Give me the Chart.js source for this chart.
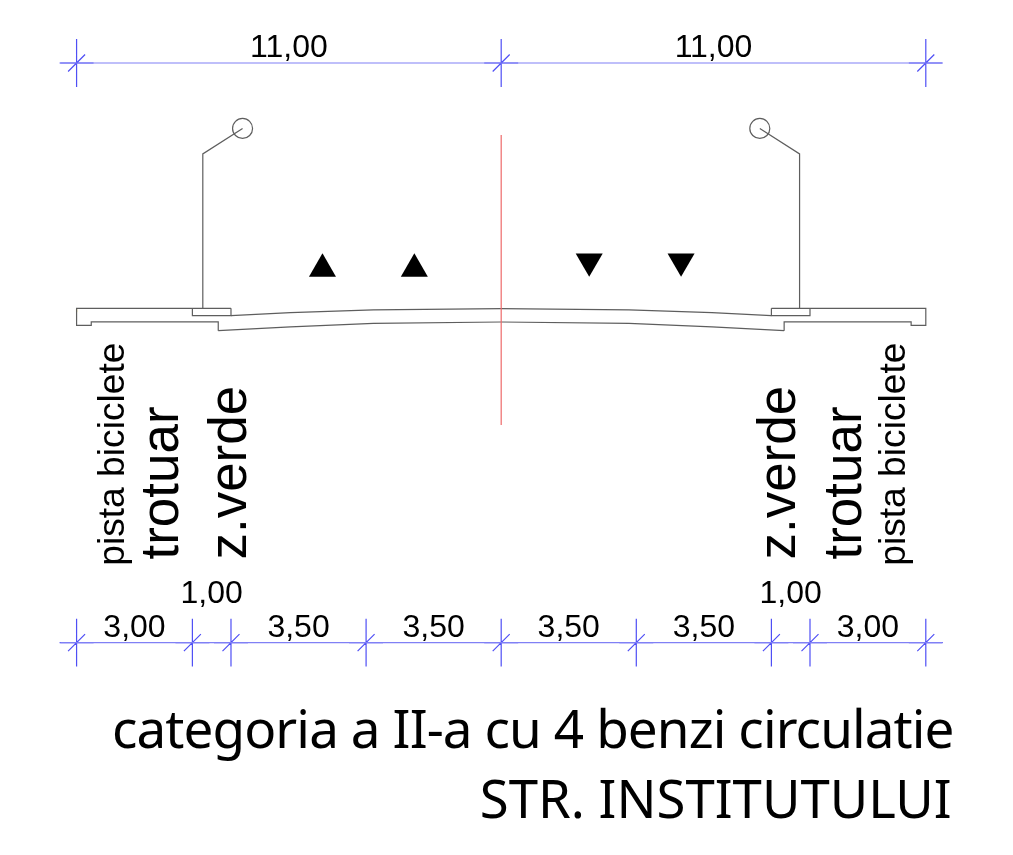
<!DOCTYPE html>
<html>
<head>
<meta charset="utf-8">
<title>categoria a II-a cu 4 benzi circulatie</title>
<script src="https://cdn.jsdelivr.net/npm/chart.js@4"></script>
<style>
html, body { margin: 0; padding: 0; background: #fff; }
canvas { display: block; }
</style>
</head>
<body>
<canvas id="profile" width="1013" height="855"></canvas>
<script>
// all values in metres, x from the road axis, y from the crown
var topWidths = [11, 11];
var bottomWidths = [3, 1, 3.5, 3.5, 3.5, 3.5, 1, 3];
var startX = -11;

var sideLabels = ['pista biciclete', 'trotuar', 'z.verde'];
var titleLines = ['categoria a II-a cu 4 benzi circulatie', 'STR. INSTITUTULUI'];

var leftOutline = [[-7, 0.01], [-11, 0.01], [-11, -0.43], [-10.62, -0.43], [-10.62, -0.34], [-7.33, -0.34], [-7.33, -0.57]];
var rightOutline = [[7, 0.01], [11, 0.01], [11, -0.43], [10.62, -0.43], [10.62, -0.34], [7.33, -0.34], [7.33, -0.57]];
var roadTop = [[-7, -0.18], [-5.46, -0.10], [-3.31, -0.03], [0, 0], [3.31, -0.03], [5.46, -0.10], [7, -0.18]];
var roadBottom = [[-7.33, -0.57], [-5.46, -0.47], [-3.31, -0.38], [0, -0.345], [3.31, -0.38], [5.46, -0.47], [7.33, -0.57]];
var leftCurb = [[-8, 0.01], [-8, -0.18], [-7, -0.18], [-7, 0.01]];
var rightCurb = [[8, 0.01], [8, -0.18], [7, -0.18], [7, 0.01]];
var leftPole = [[-7.73, 0.01], [-7.73, 4.01], [-6.70, 4.67]];
var rightPole = [[7.73, 0.01], [7.73, 4.01], [6.70, 4.67]];
var lamps = [[-6.70, 4.67], [6.70, 4.67]];
var axisLine = [[0, 4.5], [0, -3.01]];
var edgeMark = [[-11, 0.01], [-11, -0.09]];
var arrowsUp = [[-4.63, 1.03], [-2.25, 1.03]];
var arrowsDown = [[2.28, 1.23], [4.66, 1.23]];

var topDimY = 6.365;
var bottomDimY = -8.65;

function pts(list) {
    return list.map(function (p) { return { x: p[0], y: p[1] }; });
}

function dimensionLine(y) {
    return [[-11.42, y], [11.42, y]];
}

// tick, slash and short overrun at every segment end
function dimensionTicks(widths, y) {
    var out = [];
    var x = startX;
    for (var i = 0; i <= widths.length; i++) {
        out.push([x, y + 0.62], [x, y - 0.62], [NaN, NaN]);
        out.push([x - 0.22, y - 0.22], [x + 0.22, y + 0.22], [NaN, NaN]);
        out.push([x - 0.44, y], [x + 0.44, y], [NaN, NaN]);
        x += widths[i];
    }
    return out;
}

function outline(list, color) {
    return {
        data: pts(list),
        showLine: true,
        borderColor: color || '#5e5e5e',
        borderWidth: 1.2,
        pointRadius: 0
    };
}

var dimBlue = '#4f4ff5';
var dimPale = '#8080f5';

var drawingText = {
    id: 'drawingText',
    afterDatasetsDraw: function (chart) {
        var ctx = chart.ctx;
        var sx = chart.scales.x;
        var sy = chart.scales.y;

        function put(text, x, y, size, opts) {
            opts = opts || {};
            ctx.save();
            ctx.translate(sx.getPixelForValue(x), sy.getPixelForValue(y));
            if (opts.rotate) ctx.rotate(-Math.PI / 2);
            ctx.font = size + 'px ' + (opts.family || '"Liberation Sans"');
            ctx.letterSpacing = opts.spacing || '0px';
            ctx.fillStyle = '#000';
            ctx.textAlign = opts.align || 'left';
            ctx.textBaseline = 'alphabetic';
            ctx.fillText(text, 0, 0);
            ctx.restore();
        }

        function dimLabels(widths, baseY, narrowY) {
            var x = startX;
            widths.forEach(function (w) {
                var y = w === 1 ? narrowY : baseY;
                put(w.toFixed(2).replace('.', ','), x + w / 2, y, 32, { align: 'center' });
                x += w;
            });
        }

        dimLabels(topWidths, 6.53, 6.53);
        dimLabels(bottomWidths, -8.5, -7.63);

        put(sideLabels[0], -9.764, -6.66, 37.2, { rotate: true });
        put(sideLabels[1], -8.365, -6.5, 53, { rotate: true });
        put(sideLabels[2], -6.61, -6.5, 53, { rotate: true });
        put(sideLabels[0], 10.46, -6.66, 37.2, { rotate: true });
        put(sideLabels[1], 9.32, -6.5, 53, { rotate: true });
        put(sideLabels[2], 7.61, -6.5, 53, { rotate: true });

        put(titleLines[0], 11.72, -11.37, 53, { align: 'right', family: '"Noto Sans"', spacing: '-0.9px' });
        put(titleLines[1], 11.67, -13.2, 52.7, { align: 'right', family: '"Noto Sans"' });
    }
};

new Chart(document.getElementById('profile'), {
    type: 'scatter',
    data: {
        datasets: [
            outline(axisLine, '#ee6a6a'),
            outline(leftOutline),
            outline(rightOutline),
            outline(edgeMark, '#e8d44a'),
            outline(roadTop),
            outline(roadBottom),
            outline(leftCurb),
            outline(rightCurb),
            outline(leftPole),
            outline(rightPole),
            {
                data: pts(lamps),
                pointStyle: 'circle',
                pointRadius: 10,
                pointBorderColor: '#5e5e5e',
                pointBorderWidth: 1.2,
                pointBackgroundColor: 'rgba(0,0,0,0)'
            },
            {
                data: pts(arrowsUp),
                pointStyle: 'triangle',
                pointRadius: 15.6,
                pointBorderWidth: 0,
                pointBackgroundColor: '#000'
            },
            {
                data: pts(arrowsDown),
                pointStyle: 'triangle',
                pointRotation: 180,
                pointRadius: 15.6,
                pointBorderWidth: 0,
                pointBackgroundColor: '#000'
            },
            outline(dimensionLine(topDimY), dimPale),
            outline(dimensionLine(bottomDimY), dimPale),
            outline(dimensionTicks(topWidths, topDimY), dimBlue),
            outline(dimensionTicks(bottomWidths, bottomDimY), dimBlue)
        ]
    },
    options: {
        responsive: false,
        animation: false,
        devicePixelRatio: 1,
        layout: { padding: 0, autoPadding: false },
        plugins: { legend: { display: false }, tooltip: { enabled: false } },
        scales: {
            x: { type: 'linear', display: false, min: -12.984, max: 13.259 },
            y: { type: 'linear', display: false, min: -14.153, max: 7.997 }
        }
    },
    plugins: [drawingText]
});
</script>
</body>
</html>
